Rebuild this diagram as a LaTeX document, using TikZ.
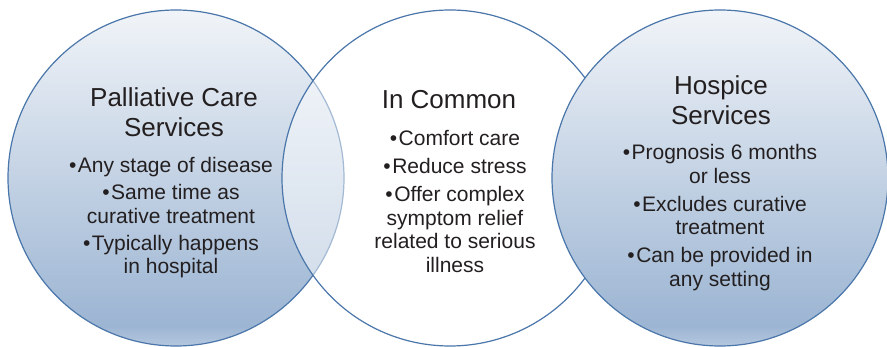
\documentclass[tikz,border=0pt]{standalone}
\usepackage{fontspec}
\setmainfont{Liberation Sans}
\definecolor{ringline}{HTML}{4A76AA}
\definecolor{txt}{HTML}{231F20}
\definecolor{shTop}{HTML}{F1F4F8}
\definecolor{shMid}{HTML}{C3D2E4}
\definecolor{shLow}{HTML}{9CB5D3}
\definecolor{shBot}{HTML}{B4C7DE}
% vertical shading: bottom of the shape at 25bp, top at 75bp
\pgfdeclareverticalshading{ringshade}{100bp}{%
  color(0bp)=(shBot); color(25bp)=(shBot); color(28bp)=(shLow);
  color(50bp)=(shMid); color(75bp)=(shTop); color(100bp)=(shTop)}
\tikzset{
  ring/.style={circle, draw=ringline, line width=1.2pt, minimum size=336pt, inner sep=0pt},
  shaded ring/.style={ring, shading=ringshade},
  title/.style={text=txt, align=center, font=\fontsize{26}{30}\selectfont},
  items/.style={text=txt, align=center, font=\fontsize{21}{23.5}\selectfont},
}
\newcommand{\itm}{•\kern1.5pt}
\begin{document}
\begin{tikzpicture}[x=1pt, y=-1pt]
  \useasboundingbox (0,0) rectangle (887,347);
  % the three circles
  \node[shaded ring] (pal) at (176,178) {};
  \node[ring, fill=white, fill opacity=0.5] (com) at (450,178) {};
  \node[shaded ring] (hos) at (720,178) {};
  % palliative care
  \node[title] (paltitle) at (174,112) {Palliative Care\\Services};
  \node[items, anchor=north] (palitems) at (171,154) {%
    \itm Any stage of disease\\[3.5pt]
    \itm Same time as\\ curative treatment\\[3.5pt]
    \itm Typically happens\\ in hospital};
  % in common
  \node[title] (comtitle) at (449,100) {In Common};
  \node[items, anchor=north] (comitems) at (455,127) {%
    \itm Comfort care\\[4.5pt]
    \itm Reduce stress\\[4.5pt]
    \itm Offer complex\\ symptom relief\\ related to serious\\ illness};
  % hospice
  \node[title] (hostitle) at (721,100) {Hospice\\Services};
  \node[items, anchor=north] (hositems) at (720,141) {%
    \itm Prognosis 6 months\\ or less\\[4.5pt]
    \itm Excludes curative\\ treatment\\[4.5pt]
    \itm Can be provided in\\ any setting};
\end{tikzpicture}
\end{document}
